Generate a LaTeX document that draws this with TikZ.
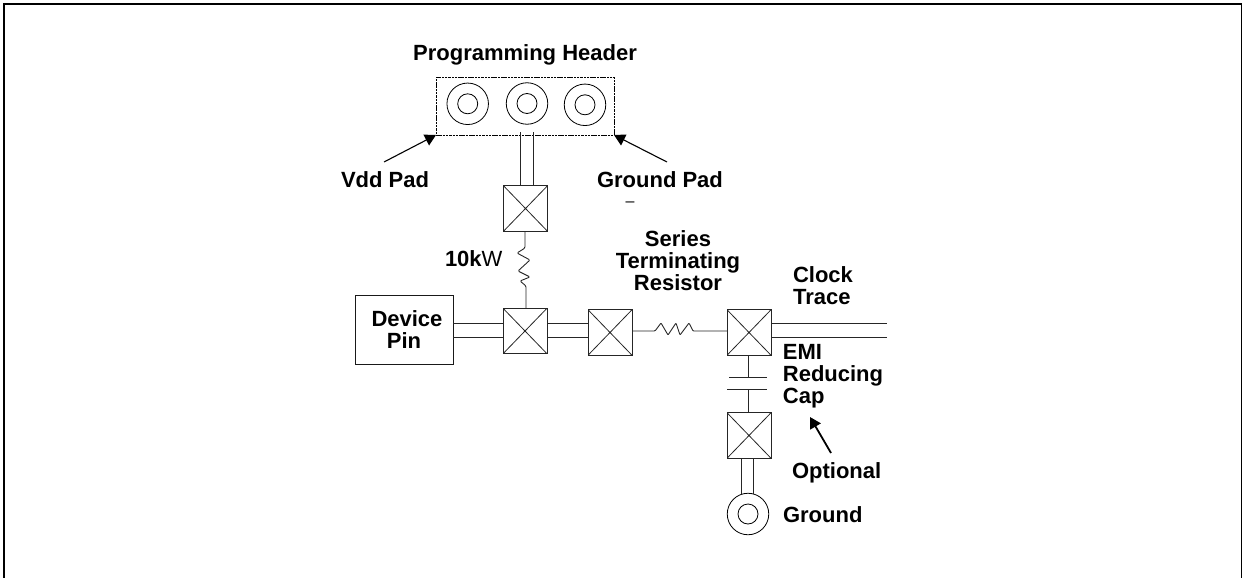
\documentclass[tikz,border=0pt]{standalone}
\usepackage{fontspec}
\setmainfont{Liberation Sans}
\usetikzlibrary{arrows.meta}
\tikzset{
  x=1pt,y=-1pt,
  wire/.style={line width=0.9pt,draw=black!85},
  lbl/.style={inner sep=0pt,outer sep=0pt,font=\fontsize{22}{22}\selectfont\bfseries,align=center},
  lbll/.style={lbl,align=left},
  xbox/.style={draw=black!85,line width=0.9pt,inner sep=0pt,outer sep=0pt,minimum width=44pt,minimum height=45.5pt,
    path picture={\draw[line width=0.8pt] (path picture bounding box.north west)--(path picture bounding box.south east)
      (path picture bounding box.north east)--(path picture bounding box.south west);}},
  padout/.style={circle,draw=black,line width=0.8pt,minimum size=41.5pt,inner sep=0pt,outer sep=0pt},
  padin/.style={circle,draw=black,line width=0.8pt,minimum size=20pt,inner sep=0pt,outer sep=0pt},
  pointer/.style={line width=1.1pt,-{Triangle[length=11pt,width=12pt]}},
}
\begin{document}
\begin{tikzpicture}
\useasboundingbox (0,0) rectangle (1242,578);
\draw[line width=2pt] (4,578)--(4,4)--(1241.5,4)--(1241.5,578);
% header
\node[lbl,anchor=base] (title) at (525,60) {Programming Header};
\node[draw=black,line width=0.9pt,dash pattern=on 2.5pt off 0.8pt,minimum width=178pt,minimum height=58pt,inner sep=0pt,outer sep=0pt] (hdr) at (525,106) {};
\node[padout] (p1) at (467.7,103.8) {}; \node[padin] (p1i) at (467.7,103.8) {};
\node[padout] (p2) at (527,103.5) {};   \node[padin] (p2i) at (527,103.5) {};
\node[padout] (p3) at (585,104.8) {};   \node[padin] (p3i) at (585,104.8) {};
\node[xbox] (s1) at (525.5,208.5) {};
\node[xbox] (s2) at (525,331) {};
\node[xbox] (s3) at (610,332.5) {};
\node[xbox] (s4) at (749,332.5) {};
\node[xbox] (s5) at (749,435.5) {};
\node[draw=black!90,line width=0.9pt,minimum width=98pt,minimum height=69pt,inner sep=0pt,outer sep=0pt,lbl] (dev) at (404,329.5) {\hspace*{6pt}Device\\Pin};
\node[padout] (g) at (748,514) {}; \node[padin] (gi) at (748,514) {};
% double traces
\draw[wire] (520,132) -- (520,185.75);
\draw[wire] (533,132) -- (533,185.75);
\foreach \yy in {323,337}{
  \draw[wire] (dev.east |- 0,\yy) -- (s2.west |- 0,\yy);
  \draw[wire] (s2.east |- 0,\yy) -- (s3.west |- 0,\yy);
}
\coordinate (clkend1) at (887,323);
\coordinate (clkend2) at (887,337);
\draw[wire] (s4.east |- clkend1) -- (clkend1);
\draw[wire] (s4.east |- clkend2) -- (clkend2);
\draw[wire] (s5.south -| 741,0) -- (741,494);
\draw[wire] (s5.south -| 753,0) -- (753,494);
% pull-up resistor
\draw[wire,line join=round,rounded corners=1.2pt] (525,231) -- (525,248) -- (517,253) -- (530,260) -- (518,271) -- (530,277) -- (520,281) -- (526,286) -- (526,308);
% series resistor
\draw[wire,line join=round,rounded corners=0.8pt] (s3.east |- 0,331) -- (655,331) -- (661,323) -- (668,335) -- (676,323) -- (680,335) -- (689,323) -- (693,331) -- (s4.west |- 0,331);
% capacitor
\coordinate (capa) at (748,377);
\coordinate (capb) at (748,389);
\draw[wire] (s4.south -| capa) -- (capa);
\draw[wire] (729,377) -- (767,377);
\draw[wire] (727,389) -- (767,389);
\draw[wire] (capb) -- (s5.north -| capb);
% labels
\node[lbl,anchor=base west] (vdd) at (341,187) {Vdd Pad};
\node[lbl,anchor=base west] (gnd) at (597,187) {Ground Pad};
\node[inner sep=0pt,font=\fontsize{16}{16}\selectfont] (dash) at (630,204) {–};
\node[lbl,anchor=base west] (tenk) at (445,266) {10k{\mdseries W}};
\node[lbl] (ser) at (678,260.5) {Series\\Terminating\\Resistor};
\node[lbll] (clk) at (823,286) {Clock\\Trace};
\node[lbll] (emi) at (833,376) {EMI\\Reducing\\Cap};
\node[lbl,anchor=base west] (opt) at (792,478) {Optional};
\node[lbl,anchor=base west] (gl) at (783,522) {Ground};
% pointers
\coordinate (vt) at (384,162);
\coordinate (gt) at (667,162);
\coordinate (ot) at (831,453);
\coordinate (ott) at (810,417);
\draw[pointer] (vt) -- (hdr.south west);
\draw[pointer] (gt) -- (hdr.south east);
\draw[pointer,line width=1.8pt] (ot) -- (ott);
\end{tikzpicture}
\end{document}
